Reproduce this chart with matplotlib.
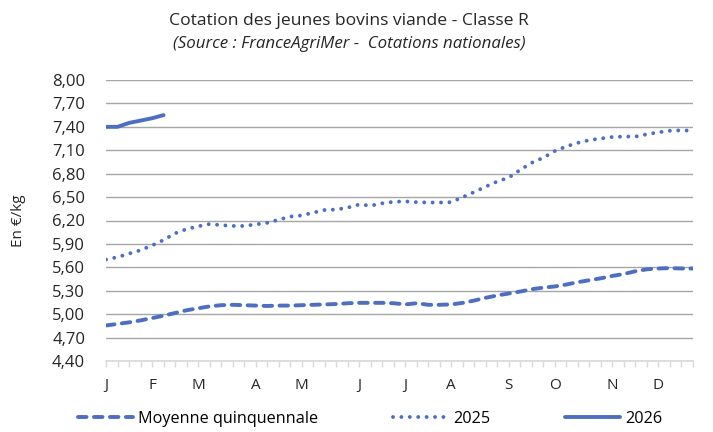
import matplotlib
matplotlib.use("Agg")
import matplotlib.pyplot as plt
import numpy as np

plt.rcParams['font.family'] = ['Open Sans', 'DejaVu Sans']

weeks = list(range(52))
month_labels = ["J", "F", "M", "A", "M", "J", "J", "A", "S", "O", "N", "D"]
month_weeks = [0, 4, 8, 13, 17, 22, 26, 30, 35, 39, 44, 48]

moyenne = [4.855, 4.875, 4.895, 4.92, 4.95, 4.98, 5.015, 5.05, 5.075, 5.10,
           5.115, 5.12, 5.115, 5.11, 5.105, 5.11, 5.11, 5.115, 5.12, 5.125,
           5.13, 5.14, 5.145, 5.145, 5.145, 5.14, 5.125, 5.14, 5.12, 5.12,
           5.125, 5.145, 5.175, 5.21, 5.24, 5.265, 5.29, 5.32, 5.34, 5.355,
           5.38, 5.41, 5.435, 5.46, 5.49, 5.515, 5.55, 5.575, 5.585, 5.59,
           5.585, 5.585]
y2025 = [5.70, 5.73, 5.775, 5.82, 5.88, 5.95, 6.035, 6.09, 6.125, 6.155,
         6.14, 6.13, 6.13, 6.15, 6.17, 6.21, 6.25, 6.265, 6.30, 6.335,
         6.34, 6.365, 6.405, 6.39, 6.42, 6.44, 6.445, 6.435, 6.43, 6.43,
         6.435, 6.50, 6.565, 6.635, 6.70, 6.75, 6.85, 6.94, 7.005, 7.09,
         7.15, 7.195, 7.23, 7.25, 7.27, 7.275, 7.275, 7.305, 7.33, 7.35,
         7.355, 7.35]
y2026 = [7.40, 7.40, 7.45, 7.48, 7.51, 7.55]

yticks = [4.40, 4.70, 5.00, 5.30, 5.60, 5.90, 6.20, 6.50, 6.80, 7.10, 7.40, 7.70, 8.00]

color = '#4E6EC2'
txt = '#262626'

fig = plt.figure(figsize=(7.13, 4.32), dpi=100)
ax = fig.add_axes([106/713, 1-361/432, (693-106)/713, (361-80)/432])

ax.plot(weeks, moyenne, color=color, lw=2.8, linestyle=(0, (2.2, 1.9)),
        dash_capstyle='round', label='Moyenne quinquennale')
ax.plot(weeks, y2025, color=color, lw=2.8, linestyle=(0, (0.01, 2.15)),
        dash_capstyle='round', label='2025')
ax.plot(weeks[:len(y2026)], y2026, color=color, lw=2.8, solid_capstyle='round',
        label='2026')

ax.set_xlim(0, 51)
ax.set_ylim(4.40, 8.00)
ax.set_yticks(yticks)
ax.set_yticklabels([f"{v:.2f}".replace('.', ',') for v in yticks], fontsize=12, color=txt)
ax.yaxis.grid(True, color='#A6A6A6', lw=1.0)
ax.set_axisbelow(True)
ax.tick_params(axis='y', length=0, pad=15)

ax.set_xticks(weeks)
labs = [''] * 52
for m, w in zip(month_labels, month_weeks):
    labs[w] = m
ax.set_xticklabels(labs, fontsize=11, color=txt)
ax.tick_params(axis='x', length=4, color='#D9D9D9', width=1, pad=8)

for s in ['top', 'right', 'left']:
    ax.spines[s].set_visible(False)
ax.spines['bottom'].set_color('#D9D9D9')
ax.spines['bottom'].set_linewidth(1.2)

ax.set_ylabel('En €/kg', fontsize=11, color=txt)
ax.yaxis.set_label_coords(-0.137, 0.5)

fig.text(0.49, 0.952, 'Cotation des jeunes bovins viande - Classe R',
         ha='center', va='center', fontsize=12.6, color=txt)
fig.text(0.49, 0.897, '(Source : FranceAgriMer -  Cotations nationales)',
         ha='center', va='center', fontsize=12.2, style='italic', color=txt)

fig.legend(loc='center', bbox_to_anchor=(0.519, 0.03), ncol=3, frameon=False,
           fontsize=11.7, handlelength=3.4, handletextpad=0.3, columnspacing=4.6)

fig.savefig('out.png', dpi=100)
